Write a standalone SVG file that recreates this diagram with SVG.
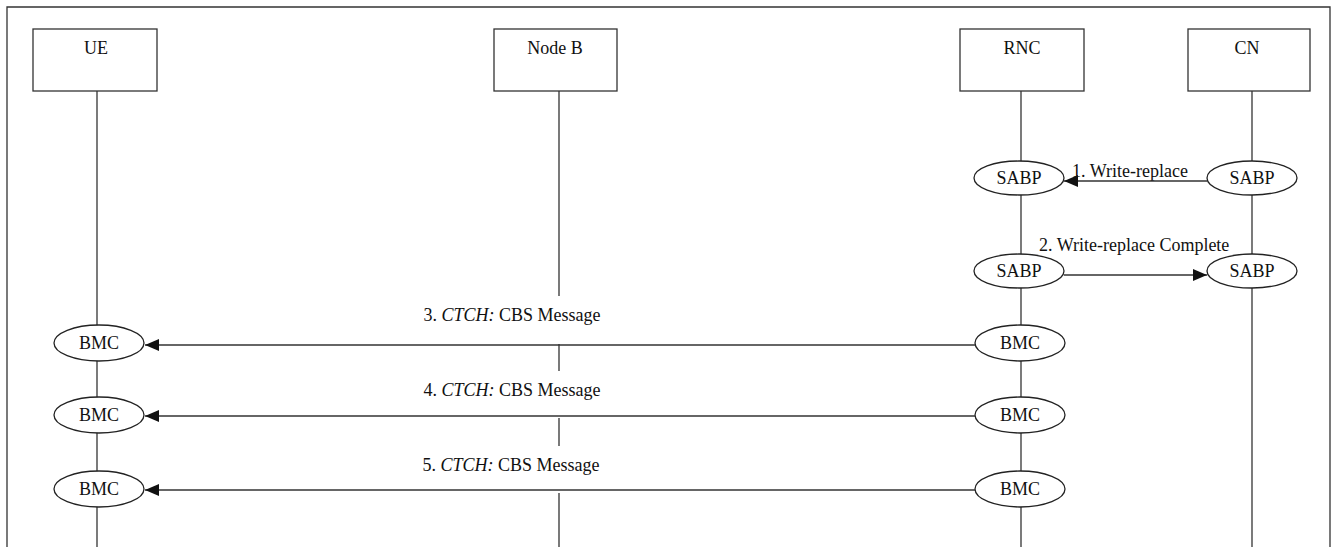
<svg xmlns="http://www.w3.org/2000/svg" width="1334" height="547" viewBox="0 0 1334 547">
<style>
.ln{stroke:#333;stroke-width:1.3;fill:none}
.box{fill:#fff;stroke:#333;stroke-width:1.3}
.el{fill:#fff;stroke:#222;stroke-width:1.3}
.t{font-family:"Liberation Serif","Times New Roman",serif;font-size:18px;fill:#111;text-anchor:middle}
.lb{font-family:"Liberation Serif","Times New Roman",serif;font-size:18px;fill:#111}
.ar{stroke:#333;stroke-width:1.4;fill:none}
</style>
<defs>
<marker id="ah" markerWidth="14" markerHeight="12" refX="14" refY="6" orient="auto" markerUnits="userSpaceOnUse">
<path d="M0,0 L14,6 L0,12 Z" fill="#111"/>
</marker>
</defs>
<rect width="1334" height="547" fill="#fff"/>
<path class="ln" d="M7,547 V7 H1330 V547"/>
<g id="lifelines">
<path class="ln" d="M97,91 V547"/>
<path class="ln" d="M559,91 V296 M559,344 V371 M559,418 V446 M559,493 V547"/>
<path class="ln" d="M1021,91 V547"/>
<path class="ln" d="M1252,91 V547"/>
</g>
<g id="UE"><rect class="box" x="33" y="29" width="124" height="62"/><text class="t" x="96" y="54">UE</text></g>
<g id="NodeB"><rect class="box" x="494" y="29" width="123" height="62"/><text class="t" x="555" y="54">Node B</text></g>
<g id="RNC"><rect class="box" x="960" y="29" width="124" height="62"/><text class="t" x="1022" y="54">RNC</text></g>
<g id="CN"><rect class="box" x="1188" y="29" width="122" height="62"/><text class="t" x="1247" y="54">CN</text></g>
<g id="labels">
<text class="lb" x="1072" y="177">1. Write-replace</text>
<text class="lb" x="1039" y="251">2. Write-replace Complete</text>
<text class="t" x="512" y="321">3. <tspan font-style="italic">CTCH:</tspan> CBS Message</text>
<text class="t" x="512" y="396">4. <tspan font-style="italic">CTCH:</tspan> CBS Message</text>
<text class="t" x="511" y="471">5. <tspan font-style="italic">CTCH:</tspan> CBS Message</text>
</g>
<g id="SABP_RNC_1"><ellipse class="el" cx="1019" cy="178" rx="45" ry="17"/><text class="t" x="1019" y="184">SABP</text></g>
<g id="SABP_CN_1"><ellipse class="el" cx="1252" cy="178" rx="45" ry="17"/><text class="t" x="1252" y="184">SABP</text></g>
<g id="SABP_RNC_2"><ellipse class="el" cx="1019" cy="271" rx="45" ry="17"/><text class="t" x="1019" y="277">SABP</text></g>
<g id="SABP_CN_2"><ellipse class="el" cx="1252" cy="271" rx="45" ry="17"/><text class="t" x="1252" y="277">SABP</text></g>
<g id="BMC_UE_1"><ellipse class="el" cx="99" cy="343" rx="45" ry="18"/><text class="t" x="99" y="349">BMC</text></g>
<g id="BMC_UE_2"><ellipse class="el" cx="99" cy="415" rx="45" ry="18"/><text class="t" x="99" y="421">BMC</text></g>
<g id="BMC_UE_3"><ellipse class="el" cx="99" cy="489" rx="45" ry="18"/><text class="t" x="99" y="495">BMC</text></g>
<g id="BMC_RNC_1"><ellipse class="el" cx="1020" cy="343" rx="45" ry="18"/><text class="t" x="1020" y="349">BMC</text></g>
<g id="BMC_RNC_2"><ellipse class="el" cx="1020" cy="415" rx="45" ry="18"/><text class="t" x="1020" y="421">BMC</text></g>
<g id="BMC_RNC_3"><ellipse class="el" cx="1020" cy="489" rx="45" ry="18"/><text class="t" x="1020" y="495">BMC</text></g>
<g id="connectors">
<line class="ar" x1="1207" y1="181" x2="1064" y2="181" marker-end="url(#ah)"/>
<line class="ar" x1="1064" y1="275" x2="1207" y2="275" marker-end="url(#ah)"/>
<line class="ar" x1="975" y1="345" x2="145" y2="345" marker-end="url(#ah)"/>
<line class="ar" x1="975" y1="416" x2="145" y2="416" marker-end="url(#ah)"/>
<line class="ar" x1="975" y1="490" x2="145" y2="490" marker-end="url(#ah)"/>
</g>
</svg>
